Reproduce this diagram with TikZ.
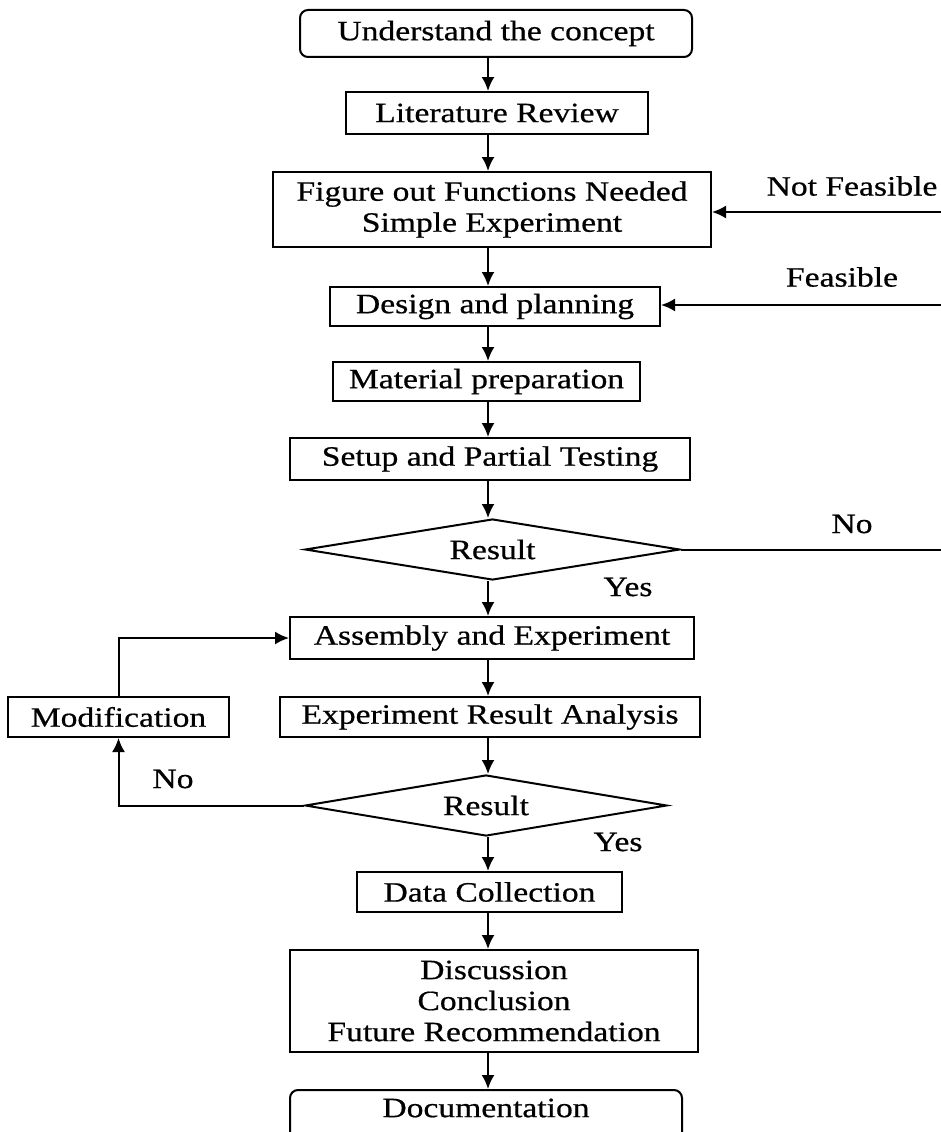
\documentclass[tikz,border=0pt]{standalone}
\usepackage{fontspec}
\setmainfont{Liberation Serif}[FakeStretch=1.2,FakeBold=0.6]
\usetikzlibrary{shapes.geometric,arrows.meta}
\begin{document}
\begin{tikzpicture}[x=1pt,y=-1pt,
  every node/.style={font=\fontsize{28}{31}\selectfont},
  box/.style={draw,line width=2pt,rectangle,inner sep=0pt,align=center},
  rbox/.style={box,rounded corners=8pt},
  dec/.style={draw,line width=2pt,diamond,aspect=6,inner sep=0pt},
  lab/.style={inner sep=0pt},
  arr/.style={line width=2pt,-{Latex[length=14pt,width=13pt]}},
  ln/.style={line width=2pt}]
\useasboundingbox (0,0) rectangle (940,1132);
\begin{scope}
\clip (0,0) rectangle (940,1132);
\node[rbox,minimum width=392pt,minimum height=47pt] (a) at (496,33.5) {Understand the concept};
\node[box,minimum width=302pt,minimum height=42pt] (b) at (497,113) {Literature Review};
\node[box,minimum width=438pt,minimum height=75pt] (c) at (492,209.5) {Figure out Functions Needed\\Simple Experiment};
\node[box,minimum width=330pt,minimum height=39pt] (d) at (495,306.5) {Design and planning};
\node[box,minimum width=307pt,minimum height=39pt] (e) at (486.5,381.5) {Material preparation};
\node[box,minimum width=400pt,minimum height=42pt] (f) at (490,459) {Setup and Partial Testing};
\node[dec,minimum width=375pt,minimum height=61pt] (g) at (492.5,549.5) {Result};
\node[box,minimum width=404pt,minimum height=42pt] (h) at (492,638) {Assembly and Experiment};
\node[box,minimum width=420pt,minimum height=40pt] (i) at (490,717) {Experiment Result Analysis};
\node[box,minimum width=221pt,minimum height=40pt] (m) at (118.5,717) {Modification};
\node[dec,minimum width=362pt,minimum height=61pt] (j) at (486,805.5) {Result};
\node[box,minimum width=265pt,minimum height=40pt] (k) at (489.5,892) {Data Collection};
\node[box,minimum width=408pt,minimum height=102pt] (l) at (494,1001) {Discussion\\Conclusion\\Future Recommendation};
\node[rbox,minimum width=392pt,minimum height=80pt] (n) at (486,1130) {};
\node[lab] (nt) at (486,1108) {Documentation};
\coordinate (r1) at (942,212);
\coordinate (r2) at (942,305);
\coordinate (r3) at (942,549.5);
\coordinate (sp) at (488,0);
\end{scope}
\draw[arr] (a.south-|sp) -- (b.north-|sp);
\draw[arr] (b.south-|sp) -- (c.north-|sp);
\draw[arr] (c.south-|sp) -- (d.north-|sp);
\draw[arr] (d.south-|sp) -- (e.north-|sp);
\draw[arr] (e.south-|sp) -- (f.north-|sp);
\draw[arr] (f.south-|sp) -- (g.north-|sp);
\draw[arr] (g.south-|sp) -- (h.north-|sp);
\draw[arr] (h.south-|sp) -- (i.north-|sp);
\draw[arr] (i.south-|sp) -- (j.north-|sp);
\draw[arr] (j.south-|sp) -- (k.north-|sp);
\draw[arr] (k.south-|sp) -- (l.north-|sp);
\draw[arr] (l.south-|sp) -- (n.north-|sp);
\draw[arr] (r1) -- (c.east|-r1);
\draw[arr] (r2) -- (d.east|-r2);
\draw[ln] (g.east) -- (r3);
\draw[arr] (m.north) |- (h.west);
\draw[arr] (j.west) -| (m.south);
\node[lab] (nf) at (852,186) {Not Feasible};
\node[lab] (fe) at (842,277) {Feasible};
\node[lab] (no1) at (852,524) {No};
\node[lab] (y1) at (628,587) {Yes};
\node[lab] (no2) at (173,779) {No};
\node[lab] (y2) at (618,842) {Yes};
\end{tikzpicture}
\end{document}
